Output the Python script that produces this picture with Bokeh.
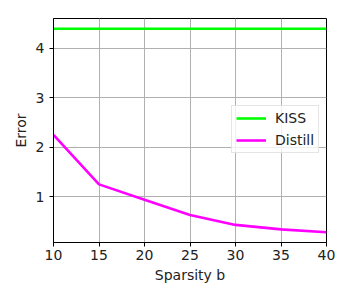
from bokeh.plotting import figure
from bokeh.models import FixedTicker, Range1d, Legend, LegendItem
from bokeh.embed import file_html
from bokeh.resources import INLINE

sparsity = [10, 15, 20, 25, 30, 35, 40]
kiss = [4.40, 4.40, 4.40, 4.40, 4.40, 4.40, 4.40]
distill = [2.25, 1.25, 0.94, 0.63, 0.43, 0.34, 0.28]
x_ticks = [10, 15, 20, 25, 30, 35, 40]
y_ticks = [1, 2, 3, 4]

FONT = "DejaVu Sans"

p = figure(width=342, height=292, output_backend="svg", toolbar_location=None,
           x_range=Range1d(10, 40), y_range=Range1d(0.074, 4.606),
           min_border_left=53, min_border_right=16, min_border_top=18, min_border_bottom=50)
p.frame_width = 273
p.frame_height = 224

r1 = p.line(sparsity, kiss, line_color="#00ff00", line_width=2.6)
r2 = p.line(sparsity, distill, line_color="#ff00ff", line_width=2.6)

p.xaxis.ticker = FixedTicker(ticks=x_ticks)
p.yaxis.ticker = FixedTicker(ticks=y_ticks)
p.xaxis.axis_label = "Sparsity b"
p.yaxis.axis_label = "Error"
for ax in (p.xaxis, p.yaxis):
    ax.axis_label_text_font = FONT
    ax.axis_label_text_font_size = "14px"
    ax.axis_label_text_font_style = "normal"
    ax.major_label_text_font = FONT
    ax.major_label_text_font_size = "14px"
    ax.major_label_text_color = "#222222"
    ax.axis_label_text_color = "#222222"
    ax.major_tick_in = 0
    ax.major_tick_out = 4
    ax.minor_tick_line_color = None
    ax.axis_line_color = "black"
    ax.major_tick_line_color = "black"
p.xaxis.axis_label_standoff = 4
p.yaxis.axis_label_standoff = 4
p.xaxis.major_label_standoff = 3
p.yaxis.major_label_standoff = 5

p.xgrid.grid_line_color = "#b0b0b0"
p.ygrid.grid_line_color = "#b0b0b0"
p.xgrid.grid_line_width = 1
p.ygrid.grid_line_width = 1
p.xgrid.ticker = FixedTicker(ticks=x_ticks)
p.ygrid.ticker = FixedTicker(ticks=y_ticks)

p.outline_line_color = "black"
p.outline_line_alpha = 1
p.outline_line_width = 1

legend = Legend(items=[LegendItem(label="KISS", renderers=[r1]),
                       LegendItem(label="Distill", renderers=[r2])],
                location=(178, 89))
legend.label_text_font = FONT
legend.label_text_font_size = "14px"
legend.label_text_color = "#222222"
legend.glyph_width = 30
legend.glyph_height = 16
legend.spacing = 6
legend.padding = 4
legend.margin = 0
legend.label_standoff = 9
legend.border_line_color = "#cccccc"
legend.border_line_width = 1
legend.background_fill_alpha = 0.8
legend.label_height = 16
p.add_layout(legend)

p.background_fill_color = "white"
p.border_fill_color = "white"

open("out.html", "w").write(file_html(p, INLINE))
